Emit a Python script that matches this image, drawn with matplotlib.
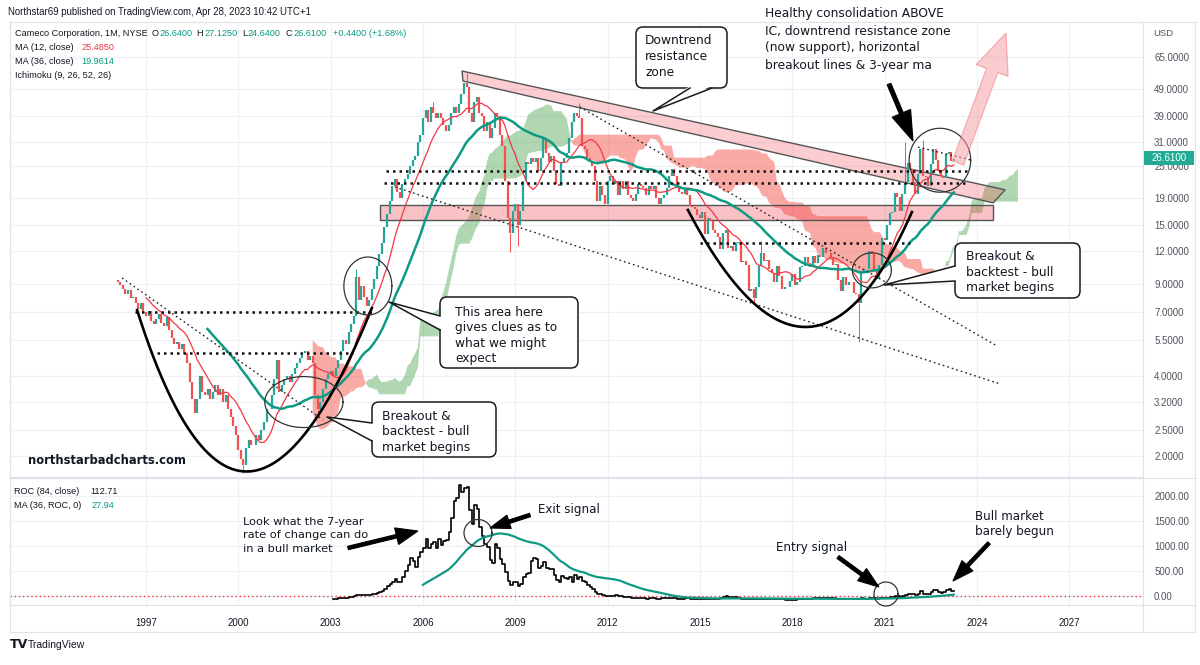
import numpy as np
import pandas as pd
import matplotlib
matplotlib.use("Agg")
import matplotlib.pyplot as plt
from matplotlib.patches import FancyBboxPatch, Polygon, FancyArrow, Rectangle
from matplotlib.lines import Line2D
from matplotlib.transforms import Affine2D

# ---------------------------------------------------------------- data
first_bar_year, first_bar_month = 1996, 2
first_open = 9.3
c1996 = [9.1, 8.9, 8.6, 8.2, 8.5, 7.9, 8.0, 7.6, 7.2, 7.6, 7.0]
c1997 = [6.8, 7.1, 6.5, 6.3, 6.6, 6.9, 6.4, 6.2, 6.7, 6.0, 5.6, 5.3]
c1998 = [5.4, 5.1, 5.3, 4.9, 4.5, 3.8, 3.3, 2.9, 3.3, 4.0, 3.5, 3.4]
c1999 = [3.6, 3.3, 3.5, 3.7, 3.4, 3.6, 3.2, 3.4, 3.0, 2.8, 2.6, 2.4]
c2000 = [2.1, 1.95, 1.85, 2.15, 2.3, 2.2, 2.2, 2.4, 2.3, 2.5, 2.7, 3.0]
c2001 = [3.0, 3.4, 3.9, 4.6, 3.5, 3.7, 3.9, 4.0, 3.8, 4.1, 4.3, 4.5]
c2002 = [4.7, 4.9, 5.0, 4.6, 4.8, 4.5, 3.4, 3.0, 3.2, 3.6, 3.9, 4.1]
c2003 = [4.2, 4.0, 4.3, 4.6, 5.0, 5.5, 5.3, 5.9, 6.3, 6.8, 9.5, 7.8]
c2004 = [8.8, 8.0, 7.4, 7.8, 8.6, 9.4, 10.5, 11.6, 12.8, 14.8, 16.5, 18.5]
c2005 = [21.0, 22.5, 20.0, 19.0, 21.5, 22.5, 23.5, 25.0, 26.5, 27.5, 31.0, 33.0]
c2006 = [38, 41, 37, 42, 40, 38, 40, 38, 36, 34, 36, 40]
c2007 = [42, 40, 43, 47, 52, 50, 40, 37, 44, 46, 40, 39]
c2008 = [34, 37, 32, 35, 40, 39, 33, 30, 22, 16, 14, 17]
c2009 = [18, 15, 17, 22, 26, 25.5, 27, 26, 27, 24, 27, 32]
c2010 = [28, 26, 27.5, 24, 21.5, 21, 26, 27, 28, 32, 37, 40]
c2011 = [39, 38, 30, 29, 27, 26, 25, 22, 18.5, 21, 19.5, 18]
c2012 = [22, 23, 21.5, 22, 19.5, 22, 20.5, 22, 19.5, 19, 18.5, 19.7]
c2013 = [21.5, 21, 20.8, 19.5, 21, 20.6, 21, 19, 18, 19, 19.5, 20.8]
c2014 = [23, 24.5, 23, 21, 20, 19.7, 20.3, 19.5, 17.7, 17.5, 17.3, 16.4]
c2015 = [16, 16.8, 13.9, 15.9, 15.5, 14.3, 14, 13.5, 12.2, 14, 14.4, 12.3]
c2016 = [12.5, 12, 12.8, 12.9, 10.9, 11, 10.6, 8.4, 8.6, 7.9, 8.7, 10.5]
c2017 = [11.7, 11, 11.1, 10.2, 9.9, 9.1, 10.5, 9.6, 8.6, 8.7, 8.7, 9.2]
c2018 = [9.8, 8.9, 9.1, 10.4, 10.5, 11.3, 10.8, 10.4, 11.4, 10.8, 11.5, 11.35]
c2019 = [12.3, 11.7, 11.8, 11.2, 10.6, 10.7, 9.3, 8.4, 9.5, 8.9, 9.1, 9.1]
c2020 = [8.3, 8.2, 7.6, 10.0, 10.2, 10.2, 12.0, 11.6, 10.0, 9.4, 10.6, 13.4]
c2021 = [13.2, 15.0, 16.6, 16.8, 19.9, 19.2, 17.0, 19.7, 21.8, 25.7, 24.5, 21.8]
c2022 = [19.6, 23.5, 29.1, 23.1, 22.8, 21.0, 25.5, 29.2, 26.5, 24.0, 23.0, 22.7]
c2023 = [27.9, 28.4, 26.2, 26.61]

wick_high = {(2007, 6): 56.5, (2011, 2): 43.5, (2021, 9): 31.0, (2022, 4): 31.5,
             (2017, 1): 13.0, (2006, 5): 44.0, (2003, 11): 10.2}
wick_low = {(2000, 3): 1.72, (2008, 11): 11.9, (2020, 3): 5.4, (2016, 10): 7.6,
            (2002, 8): 2.8, (2009, 2): 12.5}

price_ticks = [2.0, 2.5, 3.2, 4.0, 5.5, 7.0, 9.0, 12.0, 15.0, 19.0, 25.0, 31.0, 39.0, 49.0, 65.0]
roc_ticks = [0, 500, 1000, 1500, 2000]
year_ticks = [1997, 2000, 2003, 2006, 2009, 2012, 2015, 2018, 2021, 2024, 2027]

# chart drawings (anchor points in year / price units)
resistance_band = [(2007.27, 57.5), (2024.92, 20.4), (2024.53, 18.2), (2007.30, 52.7)]
support_zone = (2004.6, 2024.53, 15.67, 17.86)          # t0, t1, p_low, p_high
horizontal_lines = [(2004.8, 2023.75, 24.1), (2004.75, 2023.6, 21.7),
                    (1996.64, 2004.44, 7.04), (1997.36, 2003.73, 4.91),
                    (2015.0, 2021.83, 12.86)]
diagonal_lines = [((1996.22, 9.45), (2002.75, 2.74)),
                  ((2005.09, 20.9), (2024.75, 3.75)),
                  ((2011.10, 42.0), (2024.66, 5.22)),
                  ((2022.09, 29.6), (2023.84, 26.4))]
cups = [((1996.71, 7.14), (2000.04, 0.423), (2004.34, 7.27)),
        ((2014.61, 17.1), (2018.58, 2.24), (2021.89, 16.8))]
circles = [(2004.21, 8.81, 0.78, 0.253), (2002.13, 3.20, 1.27, 0.2225),
           (2020.59, 10.1, 0.634, 0.153), (2022.80, 26.4, 1.0, 0.279)]

# ---------------------------------------------------------------- derived
closes = np.array(c1996 + c1997 + c1998 + c1999 + c2000 + c2001 + c2002 + c2003 +
                  c2004 + c2005 + c2006 + c2007 + c2008 + c2009 + c2010 + c2011 +
                  c2012 + c2013 + c2014 + c2015 + c2016 + c2017 + c2018 + c2019 +
                  c2020 + c2021 + c2022 + c2023, dtype=float)
n = len(closes)
idx = np.arange(n)
t = first_bar_year + (first_bar_month - 1 + idx) / 12.0
opens = np.r_[first_open, closes[:-1]]
s = pd.Series(closes)
ma12 = s.rolling(12).mean().values
ma36 = s.rolling(36).mean().values
roc = (s / s.shift(84) - 1.0) * 100.0
roc_ma = roc.rolling(36).mean().values
roc = roc.values


def midline(k):
    return ((s.rolling(k).max() + s.rolling(k).min()) / 2.0).values


shift = 25
spanA = np.r_[np.full(shift, np.nan), (midline(9) + midline(26)) / 2.0]
spanB = np.r_[np.full(shift, np.nan), midline(52)]
t_ext = first_bar_year + (first_bar_month - 1 + np.arange(n + shift)) / 12.0

# ---------------------------------------------------------------- figure
W, H = 1200, 665
fig = plt.figure(figsize=(12, 6.65), dpi=100)
fig.patch.set_facecolor("white")
PX = Affine2D().scale(1.0 / W, -1.0 / H).translate(0, 1) + fig.transFigure


def fbox(x0, y0, x1, y1):
    return [x0 / W, 1 - y1 / H, (x1 - x0) / W, (y1 - y0) / H]


UP, DN = "#26a69a", "#ef5350"
TEAL = "#0f9a84"
GRID = "#eef0f5"
BORDER = "#dfe2ea"
LABEL = "#50535e"
AXFONT = "Liberation Sans"

ax = fig.add_axes(fbox(10, 22, 1143, 477))
axr = fig.add_axes(fbox(10, 478, 1143, 605))
for a in (ax, axr):
    a.set_xlim(1992.58, 2029.40)
    for sp in a.spines.values():
        sp.set_color(BORDER)
        sp.set_linewidth(0.8)
    a.yaxis.tick_right()
    a.tick_params(axis="y", length=0, pad=8, labelsize=7, labelcolor=LABEL)
    a.set_xticks(year_ticks)
    for yv in year_ticks:
        a.axvline(yv, color=GRID, lw=0.9, zorder=0)
ax.set_yscale("log")
ax.set_ylim(1.664, 88.2)
ax.set_yticks(price_ticks)
ax.set_yticklabels([f"{v:.4f}" for v in price_ticks], fontfamily=AXFONT)
ax.yaxis.set_minor_locator(matplotlib.ticker.NullLocator())
ax.tick_params(axis="x", length=0, labelbottom=False)
for v in price_ticks:
    ax.axhline(v, color=GRID, lw=0.9, zorder=0)

axr.set_ylim(-180, 2360)
axr.set_yticks(roc_ticks)
axr.set_yticklabels([f"{v:.2f}" for v in roc_ticks], fontfamily=AXFONT)
axr.set_xticklabels([str(y) for y in year_ticks], fontfamily=AXFONT)
axr.tick_params(axis="x", length=0, pad=9, labelsize=7, labelcolor="#131722")
for v in roc_ticks:
    axr.axhline(v, color=GRID, lw=0.9, zorder=0)

# ---- Ichimoku cloud
ax.fill_between(t_ext, spanA, spanB, where=spanA >= spanB, interpolate=True,
                color="#43a047", alpha=0.42, lw=0, zorder=1)
ax.fill_between(t_ext, spanA, spanB, where=spanA < spanB, interpolate=True,
                color="#f44336", alpha=0.45, lw=0, zorder=1)

# ---- zones
band = Polygon(resistance_band, closed=True, fc=(0.95, 0.21, 0.27, 0.25),
               ec="#555555", lw=1.0, zorder=2)
ax.add_patch(band)
zt0, zt1, zp0, zp1 = support_zone
ax.add_patch(Polygon([(zt0, zp0), (zt1, zp0), (zt1, zp1), (zt0, zp1)], closed=True,
                     fc=(0.95, 0.21, 0.27, 0.30), ec="#555555", lw=1.0, zorder=2))

# ---- candles
up = closes >= opens
lo = np.minimum(opens, closes)
hi = np.maximum(opens, closes)
for (yy, mm), v in wick_high.items():
    i = (yy - first_bar_year) * 12 + (mm - first_bar_month)
    ax.vlines(t[i], hi[i], v, color=UP if up[i] else DN, lw=0.7, zorder=3)
for (yy, mm), v in wick_low.items():
    i = (yy - first_bar_year) * 12 + (mm - first_bar_month)
    ax.vlines(t[i], v, lo[i], color=UP if up[i] else DN, lw=0.7, zorder=3)
ax.vlines(t[up], lo[up], hi[up], color=UP, lw=1.6, zorder=3)
ax.vlines(t[~up], lo[~up], hi[~up], color=DN, lw=1.6, zorder=3)

# ---- moving averages
ax.plot(t, ma12, color="#f23645", lw=0.9, zorder=4)
ax.plot(t, ma36, color=TEAL, lw=1.8, zorder=4)

# ---- drawings in price space
for t0, t1, p in horizontal_lines:
    ax.plot([t0, t1], [p, p], color="#111111", lw=1.8, ls=(0, (1, 1.6)), zorder=5)
for (ta, pa), (tb, pb) in diagonal_lines:
    ax.plot([ta, tb], [pa, pb], color="#222222", lw=1.0, ls=(0, (1.2, 2.2)), zorder=5)
ss = np.linspace(0, 1, 200)
for (ta, pa), (tc, pc), (tb, pb) in cups:
    tt = (1 - ss) ** 2 * ta + 2 * (1 - ss) * ss * tc + ss ** 2 * tb
    lp = (1 - ss) ** 2 * np.log(pa) + 2 * (1 - ss) * ss * np.log(pc) + ss ** 2 * np.log(pb)
    ax.plot(tt, np.exp(lp), color="black", lw=1.9, zorder=5)
th = np.linspace(0, 2 * np.pi, 200)
for tc, pc, rt, rl in circles:
    ax.plot(tc + rt * np.cos(th), pc * np.exp(rl * np.sin(th)), color="#333333", lw=0.9, zorder=6)

# ---- ROC pane
axr.axhline(0, color="#f23645", lw=1.0, ls=(0, (1, 2)), zorder=2)
axr.step(t, roc, where="post", color="black", lw=1.2, zorder=3)
axr.plot(t, roc_ma, color=TEAL, lw=1.6, zorder=3)


def ellipse_px(cx, cy, rx, ry):
    a = np.linspace(0, 2 * np.pi, 100)
    fig.add_artist(Line2D(cx + rx * np.cos(a), cy + ry * np.sin(a), transform=PX,
                          color="#333333", lw=0.9, zorder=30))


ellipse_px(478, 533, 14, 13.5)
ellipse_px(886, 594, 12, 12)

# ---------------------------------------------------------------- frame lines
for xs, ys in [([10, 1195], [22, 22]), ([10, 1195], [632, 632]), ([10, 1195], [605, 605]),
               ([10, 1195], [477.5, 477.5]), ([10, 10], [22, 632]), ([1143, 1143], [22, 632]),
               ([1195, 1195], [22, 632])]:
    fig.add_artist(Line2D(xs, ys, transform=PX, color=BORDER, lw=0.8, zorder=1))

# ---------------------------------------------------------------- texts
TXT = "DejaVu Sans"


def ptext(x, y, s, **kw):
    kw.setdefault("fontsize", 6.6)
    kw.setdefault("fontfamily", AXFONT)
    kw.setdefault("color", "#131722")
    kw.setdefault("va", "center")
    kw.setdefault("ha", "left")
    kw.setdefault("zorder", 40)
    fig.text(x, y, s, transform=PX, **kw)


ptext(8, 12, "Northstar69 published on TradingView.com, Apr 28, 2023 10:42 UTC+1", fontsize=6.9)
ptext(15, 34, "Cameco Corporation, 1M, NYSE")
for xl, lab, xv, val in [(152, "O", 159.5, "26.6400"), (196, "H", 204, "27.1250"),
                         (242, "L", 247.5, "24.6400"), (286, "C", 293, "26.6100")]:
    ptext(xl, 34, lab)
    ptext(xv, 34, val, color="#089981")
ptext(333, 34, "+0.4400 (+1.68%)", color="#089981")
ptext(15, 47.5, "MA (12, close)")
ptext(81, 47.5, "25.4850", color="#f23645")
ptext(15, 61.5, "MA (36, close)")
ptext(81, 61.5, "19.9614", color="#089981")
ptext(15, 75.5, "Ichimoku (9, 26, 52, 26)")
ptext(14, 492, "ROC (84, close)")
ptext(90, 492, "112.71")
ptext(14, 506, "MA (36, ROC, 0)")
ptext(91, 506, "27.94", color="#089981")
ptext(1153, 33, "USD", fontsize=6.8, color=LABEL)

# last price badge
fig.add_artist(Rectangle((1144, 151), 50, 14, transform=PX, fc="#22ab94", ec="none", zorder=35))
ptext(1152, 158, "26.6100", color="white", fontsize=7)

# TradingView footer
ptext(10, 645, "TV", fontsize=9, fontweight="bold", fontfamily="DejaVu Sans")
ptext(28, 645, "TradingView", fontsize=7.5, color="#131722")

# watermark text
ptext(28, 460, "northstarbadcharts.com", fontsize=8.3, fontweight="bold", fontfamily=TXT)


def callout(x0, y0, x1, y1, b1, b2, tip, lines, tx, ty, dy=15.5):
    fig.add_artist(FancyBboxPatch((x0, y0), x1 - x0, y1 - y0,
                                  boxstyle="round,pad=0,rounding_size=7", transform=PX,
                                  fc="white", ec="#1a1a1a", lw=1.1, zorder=20))
    cx, cy = (x0 + x1) / 2, (y0 + y1) / 2

    def nudge(p):
        dx = np.sign(cx - p[0]) * (2 if p[0] in (x0, x1) else 0)
        dy_ = np.sign(cy - p[1]) * (2 if p[1] in (y0, y1) else 0)
        return (p[0] + dx, p[1] + dy_)
    fig.add_artist(Polygon([nudge(b1), tip, nudge(b2)], closed=True, transform=PX,
                           fc="white", ec="none", zorder=21))
    fig.add_artist(Line2D([b1[0], tip[0], b2[0]], [b1[1], tip[1], b2[1]], transform=PX,
                          color="#1a1a1a", lw=1.1, zorder=22))
    for k, ln in enumerate(lines):
        ptext(tx, ty + k * dy, ln, fontsize=8.8, fontfamily=TXT, zorder=25)


callout(636, 27, 727, 88, (690, 88), (712, 88), (653, 111),
        ["Downtrend", "resistance", "zone"], 645, 41)
callout(440, 297, 578, 368, (440, 316), (440, 330), (389, 302),
        ["This area here", "gives clues as to", "what we might", "expect"], 455, 312)
callout(372, 402, 496, 457, (372, 423), (372, 441), (327, 417),
        ["Breakout &", "backtest - bull", "market begins"], 382, 416)
callout(955, 243, 1080, 298, (955, 266), (955, 281), (884, 285),
        ["Breakout &", "backtest - bull", "market begins"], 966, 257)

for k, ln in enumerate(["Healthy consolidation ABOVE", "IC, downtrend resistance zone",
                        "(now support), horizontal", "breakout lines & 3-year ma"]):
    ptext(765, 14 + k * 17, ln, fontsize=8.8, fontfamily=TXT)

ROC_NOTES = [(243, 522, 13.5, 8.2, ["Look what the 7-year", "rate of change can do",
                                    "in a bull market"]),
             (538, 510, 15, 8.6, ["Exit signal"]),
             (776, 548, 15, 8.6, ["Entry signal"]),
             (975, 517, 15, 8.6, ["Bull market", "barely begun"])]
for x, y, dy, fs, lns in ROC_NOTES:
    for k, ln in enumerate(lns):
        ptext(x, y + k * dy, ln, fontsize=fs, fontfamily=TXT)


def arrow(x0, y0, x1, y1, width=3.0, hw=13, hl=20, fc="black", ec="black", alpha=1.0, z=30):
    fig.add_artist(FancyArrow(x0, y0, x1 - x0, y1 - y0, width=width, head_width=hw,
                              head_length=hl, length_includes_head=True, transform=PX,
                              fc=fc, ec=ec, alpha=alpha, lw=0.8, zorder=z))


arrow(889, 84, 913, 141, width=4, hw=20, hl=30)
arrow(348, 548, 418, 531, width=3.5, hw=17, hl=22)
arrow(530, 515, 490, 528, width=3.5, hw=14, hl=20)
arrow(838, 557, 879, 587, width=3.5, hw=15, hl=21)
arrow(989, 543, 953, 581, width=3.5, hw=15, hl=21)
arrow(958, 163, 1006, 33, width=12, hw=34, hl=40, fc="#f7a3aa", ec="#f0707c", alpha=0.55, z=7)

fig.savefig("out.png", dpi=100, facecolor="white")
